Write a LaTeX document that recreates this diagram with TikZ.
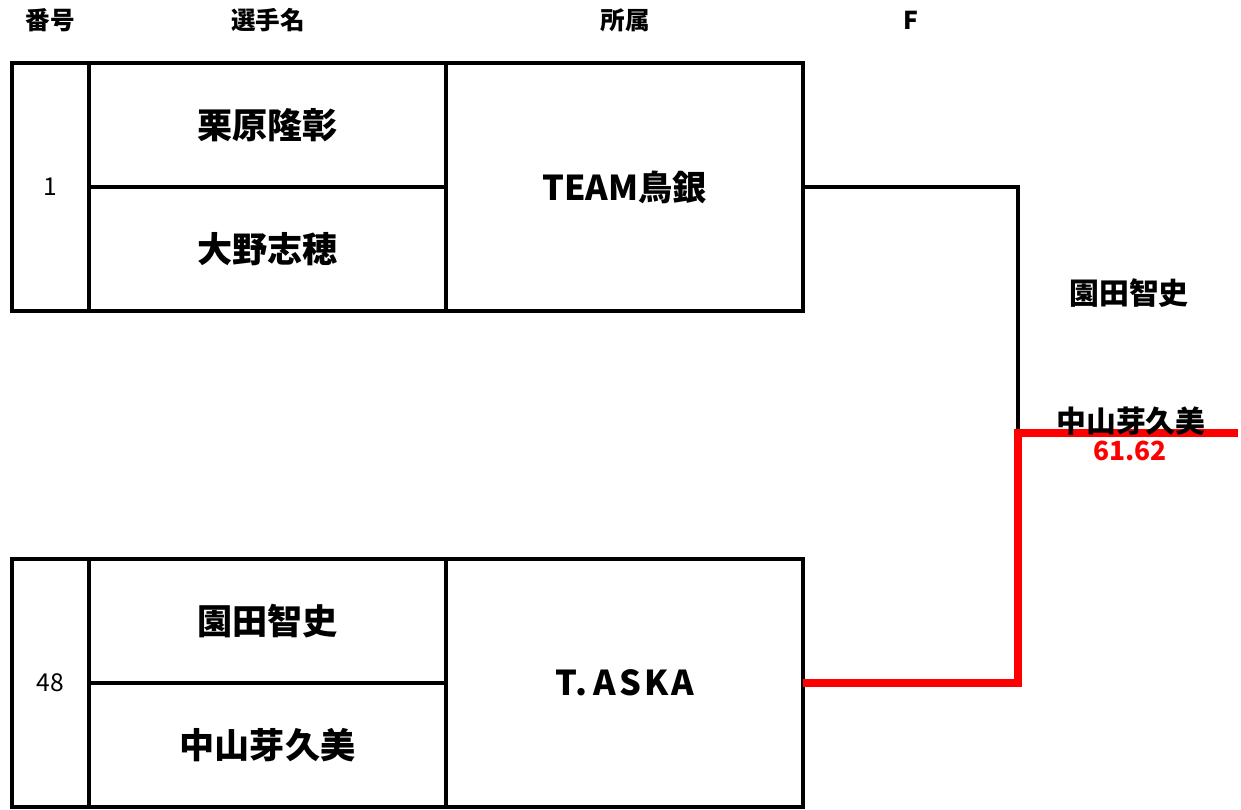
\documentclass[tikz,border=0pt]{standalone}
\usepackage{fontspec}
\setmainfont{Noto Sans CJK JP}
\usepackage{tikz}
\usetikzlibrary{calc}
\definecolor{winred}{RGB}{255,0,0}
\tikzset{
	% cells of the draw sheet: number, player name and team
	num cell/.style={draw,line width=2.2pt,inner sep=0,outer sep=0,minimum width=1.54cm,minimum height=4.96cm,font=\fontsize{14}{16}\selectfont},
	name cell/.style={draw,line width=2.2pt,inner sep=0,outer sep=0,minimum width=7.14cm,minimum height=2.48cm,font=\fontsize{20}{22}\selectfont\bfseries},
	team cell/.style={draw,line width=2.2pt,inner sep=0,outer sep=0,minimum width=7.14cm,minimum height=4.96cm,font=\fontsize{19.5}{22}\selectfont\bfseries},
	head/.style={font=\fontsize{14}{16}\selectfont\bfseries},
	% bracket lines
	bracket line/.style={draw,line width=2.2pt},
	win line/.style={draw=winred,line width=4pt,line join=miter}
}

\begin{document}
\begin{tikzpicture}[x=0.02cm,y=-0.02cm]
	\useasboundingbox (0,0) rectangle (1241,809);
	% macro for one entry: number, top/bottom player, team
	\newcommand{\entry}[5]{
		\node(num#1)[num cell] at (50.5,#2){#1};
		\node(team#1)[team cell] at (624.5,#2){#5};
		\node(up#1)[name cell,anchor=south] at (267.5,#2){#3};
		\node(down#1)[name cell,anchor=north] at (267.5,#2){#4};
		\draw[line width=2.8pt] (num#1.north west) rectangle (team#1.south east);
	}
	% header
	\node(h1)[head] at (50,20){番号};
	\node(h2)[head] at (268,20){選手名};
	\node(h3)[head] at (625,20){所属};
	\node(h4)[head] at (911,20){F};

	\entry{1}{187}{栗原隆彰}{大野志穂}{TEAM鳥銀}
	\entry{48}{683}{園田智史}{中山芽久美}{\addfontfeature{LetterSpace=9}T.\,ASKA}

	% final
	\coordinate(fin) at (1018,433);
	\coordinate(champ) at (1238,433);
	\draw[bracket line] (team1.east) -| (fin);
	\draw[win line] (team48.east) -| (fin) -- (champ);
	\node(p1)[font=\fontsize{17}{19}\selectfont\bfseries] at (1129,293){園田智史};
	\node(p2)[font=\fontsize{17}{19}\selectfont\bfseries,above=-5pt] at (1131,433){中山芽久美};
	\node(score)[font=\fontsize{15}{17}\selectfont\bfseries,text=winred,below=1pt] at (1130,433){61.62};
\end{tikzpicture}
\end{document}
